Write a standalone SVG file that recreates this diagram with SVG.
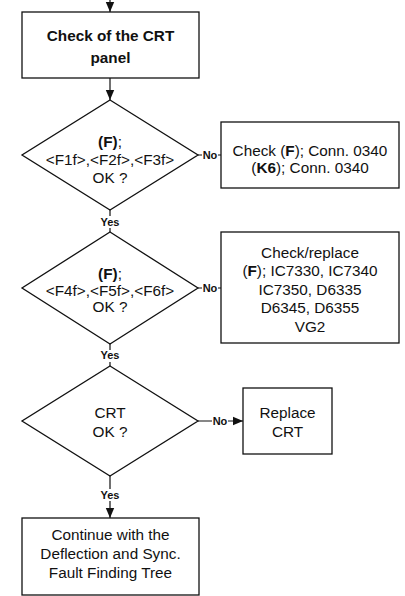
<svg xmlns="http://www.w3.org/2000/svg" width="405" height="596" viewBox="0 0 405 596">
<defs>
<style>
.box{fill:#fff;stroke:#111;stroke-width:1.3}
.t{font-family:"Liberation Sans",Arial,sans-serif;font-size:15.3px;fill:#111;text-anchor:middle}
.b{font-weight:bold}
.lbl{font-family:"Liberation Sans",Arial,sans-serif;font-size:11px;font-weight:bold;fill:#111;text-anchor:middle}
.ln{fill:none;stroke:#111;stroke-width:1.2}
</style>
<marker id="ah" markerUnits="userSpaceOnUse" markerWidth="10" markerHeight="10" viewBox="0 0 10 10" refX="10" refY="5" orient="auto">
<path d="M0,0.8 L10,5 L0,9.2 Z" fill="#111"/>
</marker>
</defs>
<rect width="405" height="596" fill="#fff"/>
<g id="connectors">
<path class="ln" d="M110,0 V12" marker-end="url(#ah)"/>
<path class="ln" d="M110,78 V100" marker-end="url(#ah)"/>
<path class="ln" d="M110,210 V216 M110,228 V232"/>
<text class="lbl" x="110" y="226">Yes</text>
<path class="ln" d="M110,344 V350 M110,362 V366"/>
<text class="lbl" x="110" y="359">Yes</text>
<path class="ln" d="M110,476 V489 M110,501 V518" marker-end="url(#ah)"/>
<text class="lbl" x="110" y="499">Yes</text>
<path class="ln" d="M198,155 H202 M218,155 H221"/>
<text class="lbl" x="210" y="159">No</text>
<path class="ln" d="M198,288 H202 M218,288 H221"/>
<text class="lbl" x="210" y="292">No</text>
<path class="ln" d="M198,421 H212 M228,421 H243" marker-end="url(#ah)"/>
<text class="lbl" x="220" y="425">No</text>
</g>
<g id="n1">
<rect class="box" x="22" y="12" width="177" height="66"/>
<text class="t b" x="110.5" y="40.5">Check of the CRT</text>
<text class="t b" x="110.5" y="62.5">panel</text>
</g>
<g id="d1">
<polygon class="box" points="110,100 198,155 110,210 22,155"/>
<text class="t" x="110" y="147"><tspan font-weight="bold">(F)</tspan>;</text>
<text class="t" x="110" y="165">&lt;F1f&gt;,&lt;F2f&gt;,&lt;F3f&gt;</text>
<text class="t" x="110" y="183">OK ?</text>
</g>
<g id="n2">
<rect class="box" x="221" y="122" width="178" height="66"/>
<text class="t" x="310" y="155.5">Check (<tspan font-weight="bold">F</tspan>); Conn. 0340</text>
<text class="t" x="310" y="172.5">(<tspan font-weight="bold">K6</tspan>); Conn. 0340</text>
</g>
<g id="d2">
<polygon class="box" points="110,232 198,288 110,344 22,288"/>
<text class="t" x="110" y="279"><tspan font-weight="bold">(F)</tspan>;</text>
<text class="t" x="110" y="296">&lt;F4f&gt;,&lt;F5f&gt;,&lt;F6f&gt;</text>
<text class="t" x="110" y="312">OK ?</text>
</g>
<g id="n3">
<rect class="box" x="221" y="232" width="178" height="111"/>
<text class="t" x="310" y="257.5">Check/replace</text>
<text class="t" x="310" y="276">(<tspan font-weight="bold">F</tspan>); IC7330, IC7340</text>
<text class="t" x="310" y="294.5">IC7350, D6335</text>
<text class="t" x="310" y="313">D6345, D6355</text>
<text class="t" x="310" y="331.5">VG2</text>
</g>
<g id="d3">
<polygon class="box" points="110,366 198,421 110,476 22,421"/>
<text class="t" x="110" y="417.5">CRT</text>
<text class="t" x="110" y="436.5">OK ?</text>
</g>
<g id="n4">
<rect class="box" x="243" y="388" width="89" height="66"/>
<text class="t" x="287.5" y="417.5">Replace</text>
<text class="t" x="287.5" y="437">CRT</text>
</g>
<g id="n5">
<rect class="box" x="22" y="518" width="177" height="77"/>
<text class="t" x="110.5" y="540">Continue with the</text>
<text class="t" x="110.5" y="559">Deflection and Sync.</text>
<text class="t" x="110.5" y="578">Fault Finding Tree</text>
</g>
</svg>
